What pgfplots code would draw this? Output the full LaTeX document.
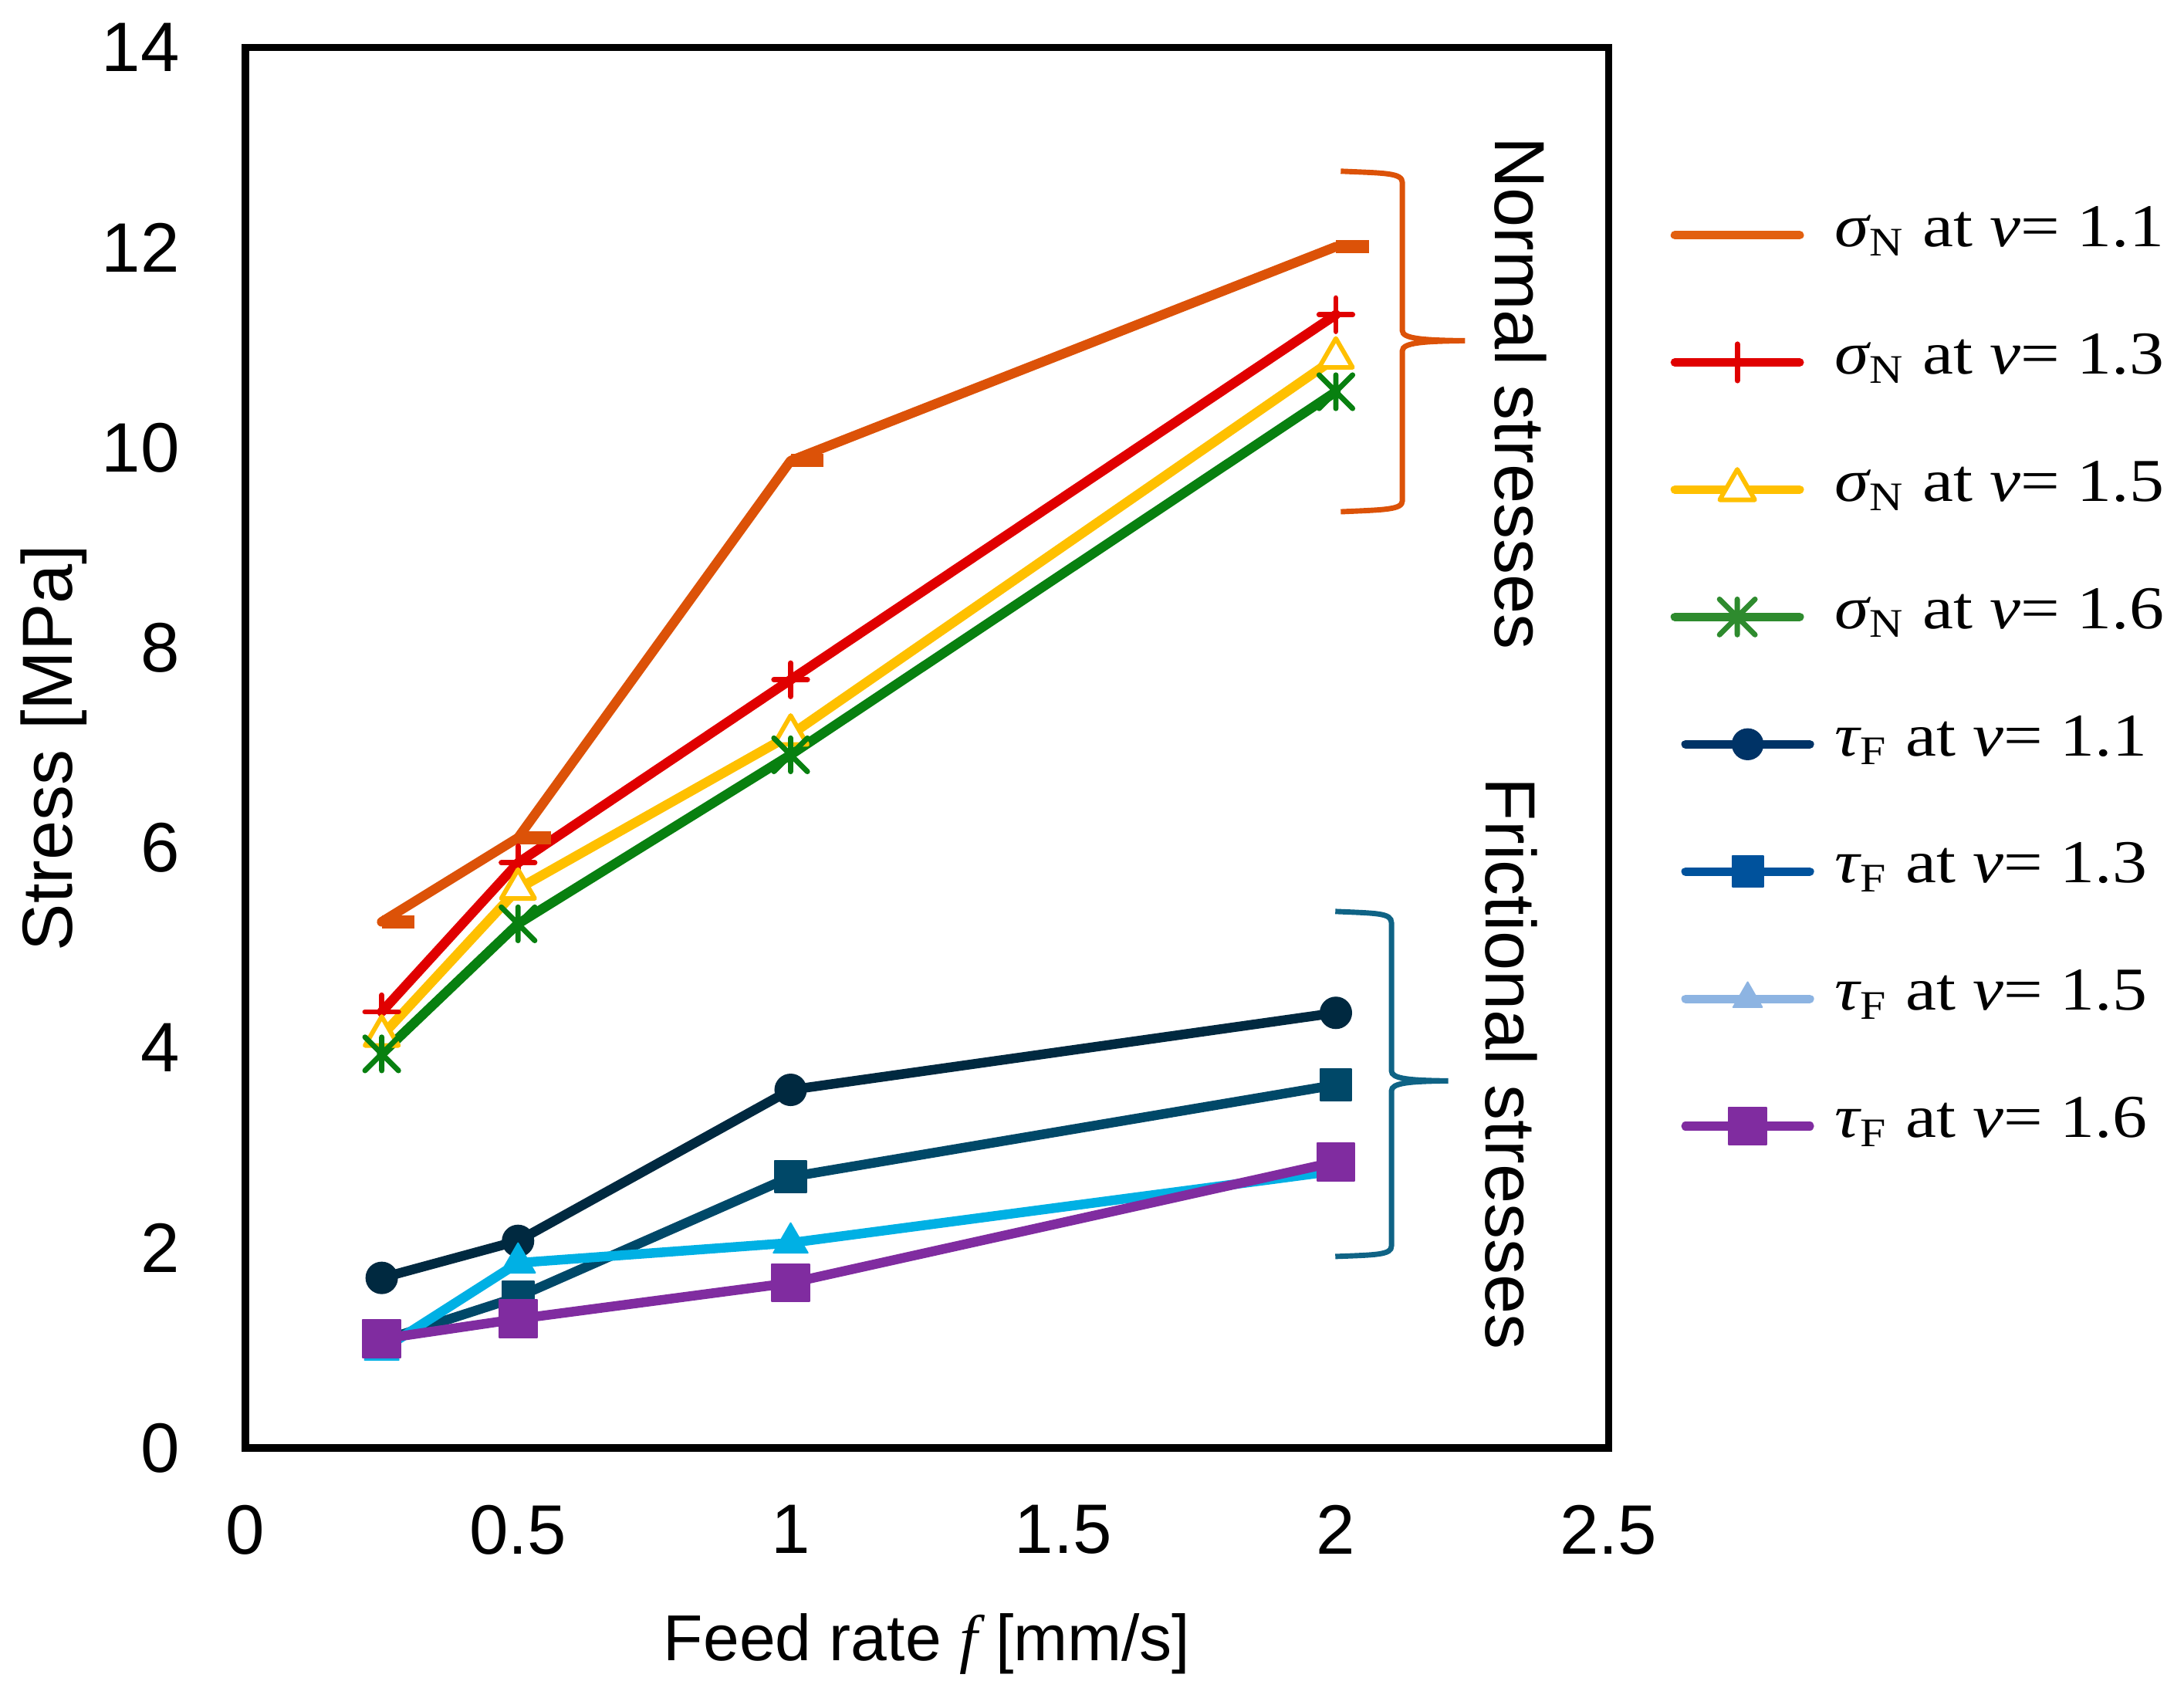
\documentclass[border=0pt]{standalone}
\usepackage{fontspec}
\setmainfont{Liberation Sans}
\newfontfamily\lgfont[FakeStretch=1.14]{Liberation Serif}
\newfontfamily\lbfont{Liberation Serif}
\usepackage{pgfplots}
\pgfplotsset{compat=1.18}
\usetikzlibrary{plotmarks}

\definecolor{cO}{RGB}{220,82,8}
\definecolor{cR}{RGB}{224,0,0}
\definecolor{cY}{RGB}{255,192,0}
\definecolor{cG}{RGB}{8,128,16}
\definecolor{cN}{RGB}{0,41,64}
\definecolor{cT}{RGB}{0,72,104}
\definecolor{cC}{RGB}{0,176,228}
\definecolor{cP}{RGB}{128,44,160}
\definecolor{lO}{RGB}{226,96,16}
\definecolor{lG}{RGB}{46,139,46}
\definecolor{lN}{RGB}{0,51,102}
\definecolor{lT}{RGB}{0,82,156}
\definecolor{lC}{RGB}{141,180,226}
\definecolor{bT}{RGB}{15,99,133}

\pgfdeclareplotmark{rdash}{%
  \pgfpathrectangle{\pgfpoint{0pt}{-1.3pt}}{\pgfpoint{6.5pt}{2.6pt}}%
  \pgfusepathqfill}
\pgfdeclareplotmark{xstar}{%
  \pgfpathmoveto{\pgfpoint{0pt}{\pgfplotmarksize}}%
  \pgfpathlineto{\pgfpoint{0pt}{-\pgfplotmarksize}}%
  \pgfpathmoveto{\pgfpoint{-\pgfplotmarksize}{\pgfplotmarksize}}%
  \pgfpathlineto{\pgfpoint{\pgfplotmarksize}{-\pgfplotmarksize}}%
  \pgfpathmoveto{\pgfpoint{-\pgfplotmarksize}{-\pgfplotmarksize}}%
  \pgfpathlineto{\pgfpoint{\pgfplotmarksize}{\pgfplotmarksize}}%
  \pgfusepathqstroke}

\pgfplotsset{
  siglg/.style={line width=1.7pt, legend image code/.code={%
    \path (0pt,0pt);
    \draw[mark repeat=2,mark phase=2] plot coordinates {(0.85pt,0pt)(13.15pt,0pt)(25.45pt,0pt)};
    \path (31.6pt,0pt);}},
  taulg/.style={line width=1.7pt, legend image code/.code={%
    \path (0pt,0pt);
    \draw[mark repeat=2,mark phase=2] plot coordinates {(2.95pt,0pt)(15.2pt,0pt)(27.45pt,0pt)};
    \path (31.6pt,0pt);}},
}

\begin{document}
\begin{tikzpicture}
\useasboundingbox (-48.4pt,-47.2pt) rectangle (382.3pt,285.5pt);
\begin{axis}[
  at={(0pt,0pt)}, anchor=south west,
  scale only axis, width=268.8pt, height=276.1pt,
  xmin=0, xmax=2.5, ymin=0, ymax=14,
  xtick={0,0.5,1,1.5,2,2.5},
  xticklabels={0,0.5,1,1.5,2,2.5},
  ytick={0,2,4,6,8,10,12,14},
  yticklabels={0,2,4,6,8,10,12,14},
  major tick length=0pt,
  axis line style={line width=1.4pt, line cap=rect},
  tick label style={font=\fontsize{13.8}{16}\selectfont, inner sep=0pt},
  yticklabel style={anchor=east, xshift=-12.8pt},
  xticklabel style={anchor=north, yshift=-11.1pt},
  xlabel={Feed rate {\lbfont\itshape f} [mm/s]},
  xlabel style={at={([yshift=-42pt]axis description cs:0.5,0)}, anchor=base, inner sep=0pt, font=\fontsize{12.8}{15}\selectfont},
  ylabel={Stress [MPa]},
  ylabel style={at={([xshift=-34.2pt]axis description cs:0,0.5)}, rotate=0, anchor=base, inner sep=0pt, font=\fontsize{14}{16}\selectfont},
  clip=false,
  every axis plot/.append style={line width=1.9pt, line join=round, line cap=round},
  legend style={at={(axis description cs:1,1)}, anchor=north west, xshift=11.2pt, yshift=-30.0pt,
    draw=none, fill=none, inner sep=0pt, row sep=11.6pt, column sep=0pt,
    nodes={inner sep=0pt, text height=9pt, text depth=4.5pt, font=\lgfont\fontsize{12}{14}\selectfont}},
  legend cell align=left,
]
% data series
\addplot[color=cO, mark=rdash, forget plot] coordinates {(0.25,5.26)(0.5,6.10)(1,9.87)(2,12.01)};
\addplot[color=cR, mark=+, mark size=3.3pt, mark options={line width=1.05pt}, forget plot] coordinates {(0.25,4.36)(0.5,5.85)(1,7.68)(2,11.33)};
\addplot[color=cY, mark=triangle*, mark size=3.8pt, mark options={fill=white, line width=0.9pt}, forget plot] coordinates {(0.25,4.12)(0.5,5.59)(1,7.13)(2,10.9)};
\addplot[color=cG, mark=xstar, mark size=3.3pt, mark options={line width=1.05pt}, forget plot] coordinates {(0.25,3.94)(0.5,5.24)(1,6.93)(2,10.56)};
\addplot[color=cN, mark=*, mark size=3.05pt, mark options={line width=0.3pt}, forget plot] coordinates {(0.25,1.70)(0.5,2.07)(1,3.58)(2,4.35)};
\addplot[color=cT, mark=square*, mark size=3.1pt, mark options={line width=0.3pt}, forget plot] coordinates {(0.25,1.07)(0.5,1.51)(1,2.71)(2,3.63)};
\addplot[color=cC, mark=triangle*, mark size=3.9pt, mark options={line width=0.3pt}, forget plot] coordinates {(0.25,0.98)(0.5,1.85)(1,2.05)(2,2.77)};
\addplot[color=cP, mark=square*, mark size=3.7pt, mark options={line width=0.3pt}, forget plot] coordinates {(0.25,1.09)(0.5,1.29)(1,1.65)(2,2.86)};

% legend
\addlegendimage{siglg, color=lO, no markers}
\addlegendentry{{\itshape σ}\textsubscript{N} at {\itshape v}= 1.1}
\addlegendimage{siglg, color=cR, mark=+, mark size=3.6pt, mark options={line width=1.05pt}}
\addlegendentry{{\itshape σ}\textsubscript{N} at {\itshape v}= 1.3}
\addlegendimage{siglg, color=cY, mark=triangle*, mark size=4pt, mark options={fill=white, line width=0.9pt}}
\addlegendentry{{\itshape σ}\textsubscript{N} at {\itshape v}= 1.5}
\addlegendimage{siglg, color=lG, mark=xstar, mark size=3.5pt, mark options={line width=1.05pt}}
\addlegendentry{{\itshape σ}\textsubscript{N} at {\itshape v}= 1.6}
\addlegendimage{taulg, color=lN, mark=*, mark size=3pt, mark options={line width=0.3pt}}
\addlegendentry{{\itshape τ}\textsubscript{F} at {\itshape v}= 1.1}
\addlegendimage{taulg, color=lT, mark=square*, mark size=3.05pt, mark options={line width=0.3pt}}
\addlegendentry{{\itshape τ}\textsubscript{F} at {\itshape v}= 1.3}
\addlegendimage{taulg, color=lC, mark=triangle*, mark size=3.3pt, mark options={line width=0.3pt}}
\addlegendentry{{\itshape τ}\textsubscript{F} at {\itshape v}= 1.5}
\addlegendimage{taulg, color=cP, mark=square*, mark size=3.7pt, mark options={line width=0.3pt}}
\addlegendentry{{\itshape τ}\textsubscript{F} at {\itshape v}= 1.6}

% braces
\draw[cO, line width=1.05pt, line cap=butt]
  (axis cs:2.009,12.765) .. controls (axis cs:2.09,12.745) and (axis cs:2.122,12.75) .. (axis cs:2.122,12.65)
  -- (axis cs:2.122,11.17) .. controls (axis cs:2.122,11.09) and (axis cs:2.16,11.075) .. (axis cs:2.237,11.07)
  .. controls (axis cs:2.16,11.065) and (axis cs:2.122,11.05) .. (axis cs:2.122,10.97)
  -- (axis cs:2.122,9.47) .. controls (axis cs:2.122,9.38) and (axis cs:2.09,9.38) .. (axis cs:2.009,9.36);
\draw[bT, line width=1.05pt, line cap=butt]
  (axis cs:1.999,5.364) .. controls (axis cs:2.075,5.345) and (axis cs:2.102,5.35) .. (axis cs:2.102,5.25)
  -- (axis cs:2.102,3.77) .. controls (axis cs:2.102,3.69) and (axis cs:2.135,3.675) .. (axis cs:2.206,3.67)
  .. controls (axis cs:2.135,3.665) and (axis cs:2.102,3.65) .. (axis cs:2.102,3.57)
  -- (axis cs:2.102,2.02) .. controls (axis cs:2.102,1.93) and (axis cs:2.075,1.93) .. (axis cs:1.999,1.914);
\node[rotate=-90, anchor=base west, inner sep=0pt, font=\fontsize{14}{16}\selectfont] at (axis cs:2.292,13.12) {Normal stresses};
\node[rotate=-90, anchor=base west, inner sep=0pt, font=\fontsize{14}{16}\selectfont] at (axis cs:2.275,6.714) {Frictional stresses};
\end{axis}
\end{tikzpicture}
\end{document}
